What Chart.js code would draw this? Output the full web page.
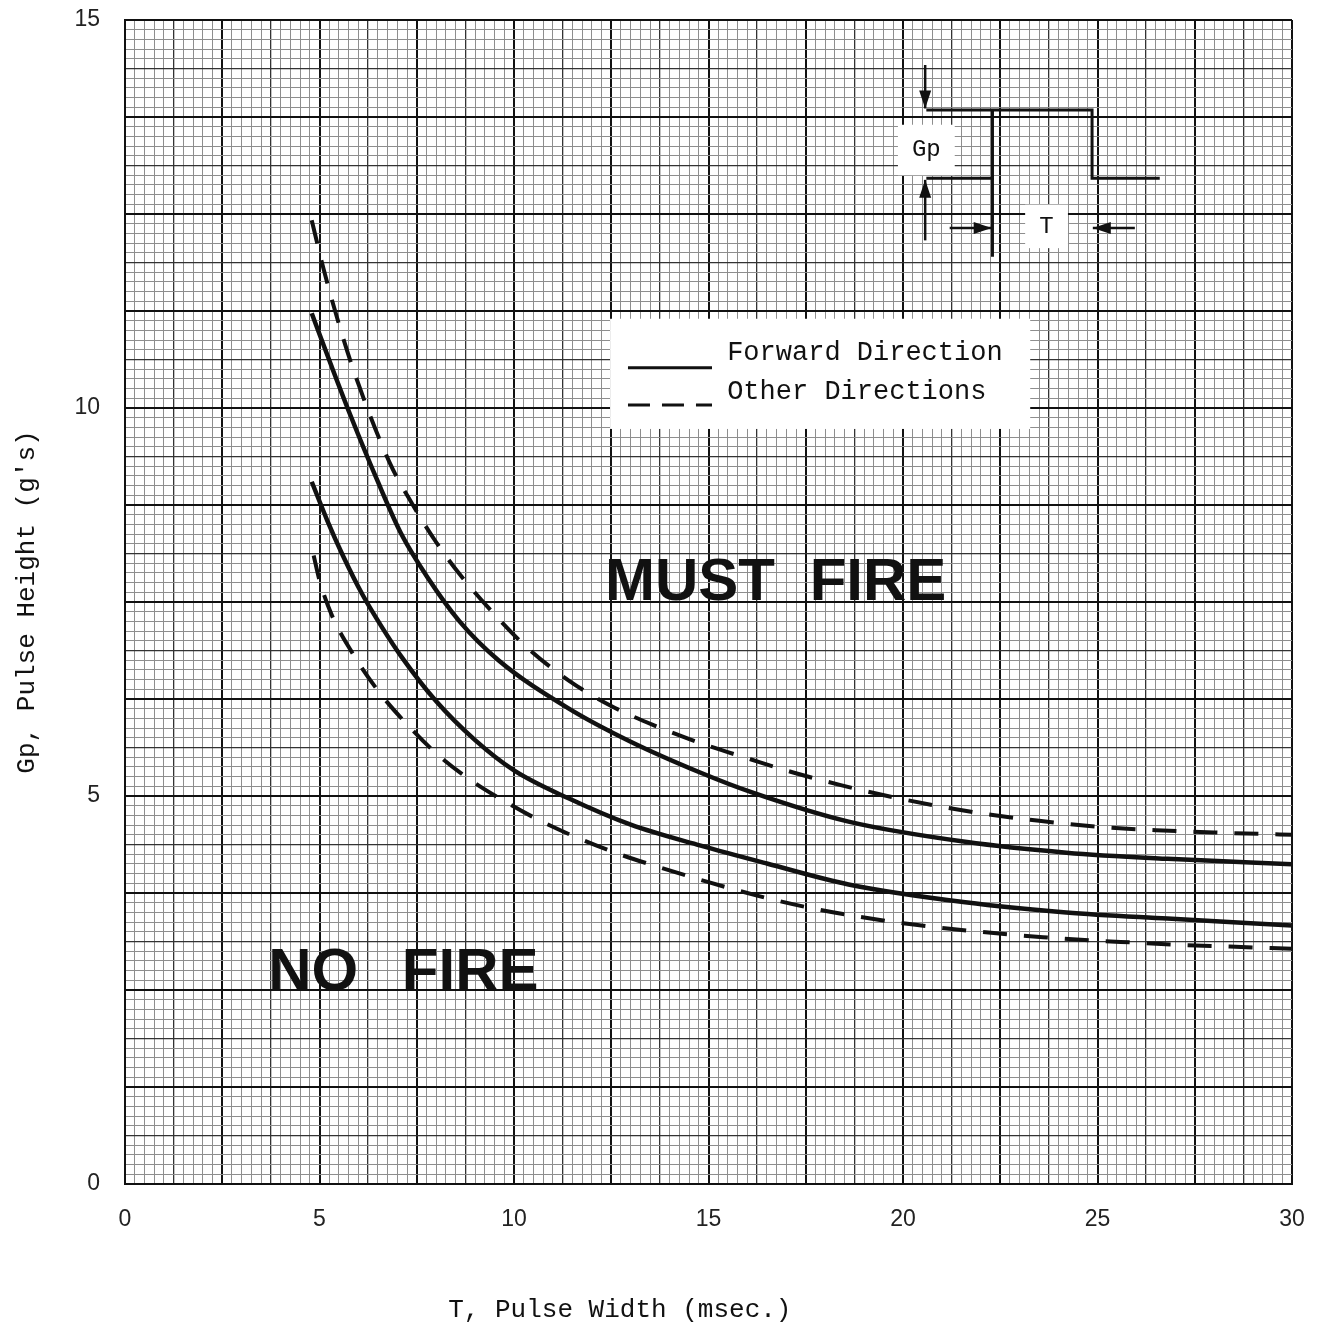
<!DOCTYPE html>
<html>
<head>
  <title>Pulse Width vs Pulse Height</title>
  <script src="https://cdn.jsdelivr.net/npm/chart.js"></script>
  <style>
    body {
      margin: 0;
      padding: 0;
      background: #fff;
    }
    #chart {
      display: block;
    }
  </style>
</head>
<body>
  <canvas id="chart" width="1319" height="1327"></canvas>
  <script>
    // tick labels
    const xTickLabels = [0, 5, 10, 15, 20, 25, 30];
    const yTickLabels = [0, 5, 10, 15];
    // graph paper: fine step, 120 divisions each way
    const xGridStep = 0.25;
    const yGridStep = 0.125;

    // Forward direction (solid)
    const upperSolidX = [4.8, 5.3, 5.8, 6.5, 7.1, 7.8, 8.6, 9.6, 11.4, 13.0, 14.8, 16.1, 18.6, 21.6, 24.2, 26.8, 30];
    const upperSolidY = [11.22, 10.55, 9.9, 9.05, 8.38, 7.8, 7.25, 6.75, 6.13, 5.7, 5.3, 5.05, 4.67, 4.41, 4.27, 4.19, 4.12];
    const lowerSolidX = [4.8, 5.2, 5.6, 6.1, 6.6, 7.1, 8.0, 9.0, 10.0, 11.4, 13.0, 14.8, 16.5, 18.6, 21.6, 24.2, 26.8, 30];
    const lowerSolidY = [9.05, 8.55, 8.1, 7.6, 7.18, 6.8, 6.22, 5.72, 5.33, 4.97, 4.63, 4.36, 4.13, 3.86, 3.63, 3.5, 3.42, 3.33];

    // Other directions (dashed)
    const upperDashX = [4.8, 5.1, 5.5, 5.9, 6.8, 7.4, 8.0, 8.6, 9.5, 10.3, 11.4, 12.5, 13.6, 14.8, 16.1, 17.2, 18.4, 19.6, 20.9, 22.1, 23.5, 25.1, 26.5, 28.0, 30];
    const upperDashY = [12.42, 11.8, 11.08, 10.45, 9.3, 8.75, 8.27, 7.86, 7.34, 6.93, 6.49, 6.16, 5.91, 5.68, 5.47, 5.3, 5.14, 5.0, 4.87, 4.77, 4.68, 4.6, 4.56, 4.53, 4.5];
    const lowerDashX = [4.85, 5.0, 5.3, 5.8, 6.5, 7.2, 8.0, 8.9, 9.8, 10.6, 11.5, 12.6, 13.75, 15.0, 16.3, 17.5, 18.8, 20.0, 21.2, 22.4, 23.6, 24.8, 26.0, 27.2, 28.4, 30];
    const lowerDashY = [8.1, 7.78, 7.35, 6.88, 6.36, 5.95, 5.55, 5.2, 4.92, 4.7, 4.49, 4.27, 4.08, 3.89, 3.71, 3.57, 3.45, 3.36, 3.29, 3.23, 3.18, 3.14, 3.11, 3.08, 3.06, 3.03];

    const ink = '#111';
    const monoFont = '"Liberation Mono", "DejaVu Sans Mono", monospace';

    function toPoints(xs, ys) {
      return xs.map((x, i) => ({ x: x, y: ys[i] }));
    }

    function gridTicks(scale, step) {
      const ticks = [];
      const n = Math.round((scale.max - scale.min) / step);
      for (let i = 0; i <= n; i++) ticks.push({ value: scale.min + i * step });
      scale.ticks = ticks;
    }

    function gridColor(ctx) {
      if (ctx.index % 10 === 0) return '#111';
      if (ctx.index % 5 === 0) return '#333';
      return '#8e8e8e';
    }
    function gridWidth(ctx) {
      if (ctx.index % 10 === 0) return 2;
      if (ctx.index % 5 === 0) return 1.3;
      return 1;
    }

    // annotations drawn on top, placed in data units
    const annotations = {
      id: 'annotations',
      afterDatasetsDraw(chart) {
        const ctx = chart.ctx;
        const xs = chart.scales.x, ys = chart.scales.y;
        const px = v => xs.getPixelForValue(v);
        const py = v => ys.getPixelForValue(v);
        ctx.save();

        // region labels
        ctx.fillStyle = ink;
        ctx.font = 'bold 60px "Liberation Sans", Arial, sans-serif';
        ctx.textAlign = 'left';
        ctx.textBaseline = 'alphabetic';
        ctx.wordSpacing = '18px';
        ctx.fillText('MUST FIRE', px(12.34), py(7.53));
        ctx.wordSpacing = '27px';
        ctx.fillText('NO FIRE', px(3.68), py(2.5));
        ctx.wordSpacing = '0px';

        // legend box
        ctx.fillStyle = '#fff';
        ctx.fillRect(px(12.47), py(11.15), px(23.27) - px(12.47), py(9.73) - py(11.15));
        ctx.strokeStyle = ink;
        ctx.lineWidth = 3;
        ctx.beginPath();
        ctx.moveTo(px(12.93), py(10.52));
        ctx.lineTo(px(15.09), py(10.52));
        ctx.stroke();
        ctx.setLineDash([22, 12]);
        ctx.beginPath();
        ctx.moveTo(px(12.93), py(10.04));
        ctx.lineTo(px(15.09), py(10.04));
        ctx.stroke();
        ctx.setLineDash([]);
        ctx.fillStyle = ink;
        ctx.font = '27px ' + monoFont;
        ctx.fillText('Forward Direction', px(15.48), py(10.62));
        ctx.fillText('Other Directions', px(15.48), py(10.12));

        // pulse sketch
        ctx.lineWidth = 3;
        ctx.beginPath();
        ctx.moveTo(px(20.6), py(13.84));
        ctx.lineTo(px(24.86), py(13.84));
        ctx.lineTo(px(24.86), py(12.96));
        ctx.lineTo(px(26.6), py(12.96));
        ctx.moveTo(px(22.3), py(13.84));
        ctx.lineTo(px(22.3), py(11.95));
        ctx.moveTo(px(20.6), py(12.96));
        ctx.lineTo(px(22.3), py(12.96));
        ctx.stroke();

        function arrow(x0, y0, x1, y1) {
          const a = Math.atan2(py(y1) - py(y0), px(x1) - px(x0));
          ctx.beginPath();
          ctx.moveTo(px(x0), py(y0));
          ctx.lineTo(px(x1), py(y1));
          ctx.stroke();
          ctx.beginPath();
          ctx.moveTo(px(x1), py(y1));
          ctx.lineTo(px(x1) - 18 * Math.cos(a) + 6 * Math.sin(a), py(y1) - 18 * Math.sin(a) - 6 * Math.cos(a));
          ctx.lineTo(px(x1) - 18 * Math.cos(a) - 6 * Math.sin(a), py(y1) - 18 * Math.sin(a) + 6 * Math.cos(a));
          ctx.closePath();
          ctx.fill();
        }
        ctx.lineWidth = 2.5;
        arrow(20.57, 14.42, 20.57, 13.86);
        arrow(20.57, 12.16, 20.57, 12.94);
        arrow(21.2, 12.32, 22.28, 12.32);
        arrow(25.96, 12.32, 24.88, 12.32);

        ctx.fillStyle = '#fff';
        ctx.fillRect(px(19.87), py(13.65), px(21.33) - px(19.87), py(13.0) - py(13.65));
        ctx.fillRect(px(23.14), py(12.62), px(24.24) - px(23.14), py(12.06) - py(12.62));
        ctx.fillStyle = ink;
        ctx.font = '24px ' + monoFont;
        ctx.textAlign = 'center';
        ctx.textBaseline = 'middle';
        ctx.fillText('Gp', px(20.6), py(13.33));
        ctx.fillText('T', px(23.69), py(12.34));

        // x axis title, centred under the left part of the axis as in the original
        ctx.font = '26px ' + monoFont;
        ctx.fillText('T, Pulse Width (msec.)', px(12.72), chart.height - 17);
        ctx.restore();
      }
    };

    const solid = { borderColor: ink, borderWidth: 4.5, pointRadius: 0, fill: false, cubicInterpolationMode: 'monotone' };
    const dashed = { borderColor: ink, borderWidth: 4, borderDash: [24, 17], pointRadius: 0, fill: false, cubicInterpolationMode: 'monotone' };

    new Chart(document.getElementById('chart'), {
      type: 'line',
      data: {
        datasets: [
          Object.assign({ label: 'Forward Direction', data: toPoints(upperSolidX, upperSolidY) }, solid),
          Object.assign({ label: 'Forward Direction (low)', data: toPoints(lowerSolidX, lowerSolidY) }, solid),
          Object.assign({ label: 'Other Directions', data: toPoints(upperDashX, upperDashY) }, dashed),
          Object.assign({ label: 'Other Directions (low)', data: toPoints(lowerDashX, lowerDashY) }, dashed)
        ]
      },
      options: {
        responsive: false,
        animation: false,
        devicePixelRatio: 1,
        layout: { padding: { left: 0, top: 20, right: 27, bottom: 0 } },
        plugins: {
          legend: { display: false },
          tooltip: { enabled: false }
        },
        scales: {
          x: {
            type: 'linear',
            min: 0,
            max: 30,
            afterBuildTicks: s => gridTicks(s, xGridStep),
            afterFit: s => { s.height = 143; s.paddingLeft = 0; s.paddingRight = 0; },
            grid: { color: gridColor, lineWidth: gridWidth, drawTicks: false },
            border: { display: true, color: ink, width: 2 },
            ticks: {
              autoSkip: false,
              maxRotation: 0,
              padding: 22,
              color: '#222',
              font: { family: '"Liberation Sans", Arial, sans-serif', size: 23 },
              callback: v => xTickLabels.includes(v) ? String(v) : ''
            },
            title: { display: false }
          },
          y: {
            type: 'linear',
            min: 0,
            max: 15,
            afterBuildTicks: s => gridTicks(s, yGridStep),
            afterFit: s => { s.width = 125; s.paddingTop = 0; s.paddingBottom = 0; },
            grid: { color: gridColor, lineWidth: gridWidth, drawTicks: false },
            border: { display: true, color: ink, width: 2 },
            ticks: {
              autoSkip: false,
              padding: 25,
              color: '#222',
              font: { family: '"Liberation Sans", Arial, sans-serif', size: 23 },
              callback: v => yTickLabels.includes(v) ? String(v) : ''
            },
            title: {
              display: true,
              text: "Gp, Pulse Height (g's)",
              color: ink,
              font: { family: monoFont, size: 26 },
              padding: { top: 12, bottom: 0 }
            }
          }
        }
      },
      plugins: [annotations]
    });
  </script>
</body>
</html>
